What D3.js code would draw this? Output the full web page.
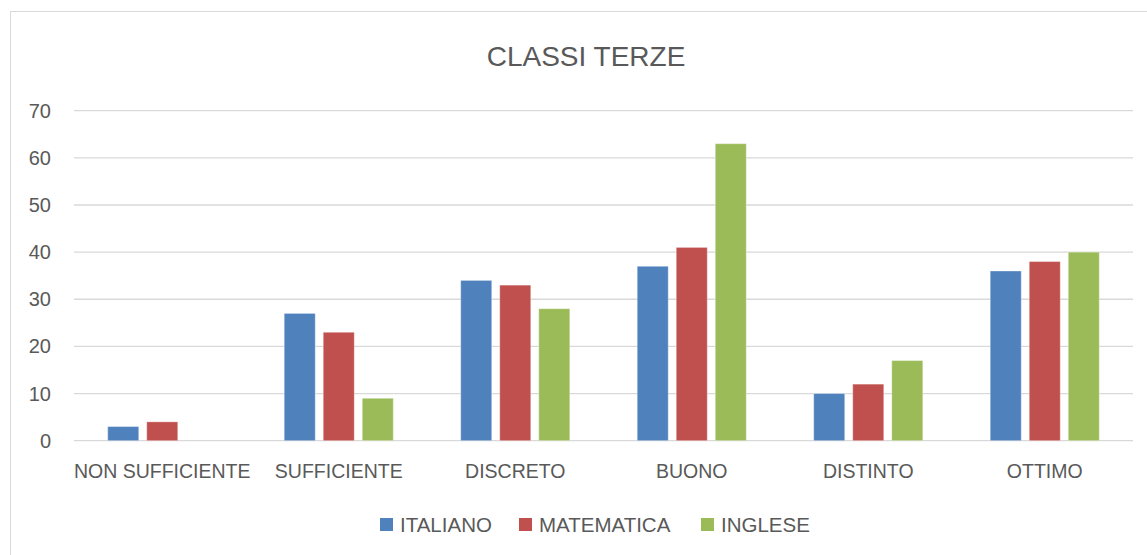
<!DOCTYPE html>
<html>
<head>
<script src="https://d3js.org/d3.v7.min.js"></script>
<style>
  body { margin: 0; background: #fff; }
  text { font-family: "Liberation Sans", Arial, sans-serif; fill: #595959; }
</style>
</head>
<body>
<svg id="chart" width="1147" height="555"></svg>
<script>
// data
var categories = ["NON SUFFICIENTE", "SUFFICIENTE", "DISCRETO", "BUONO", "DISTINTO", "OTTIMO"];
var seriesNames = ["ITALIANO", "MATEMATICA", "INGLESE"];
var italiano   = [3, 27, 34, 37, 10, 36];
var matematica = [4, 23, 33, 41, 12, 38];
var inglese    = [0, 9, 28, 63, 17, 40];
var yTicks = [0, 10, 20, 30, 40, 50, 60, 70];
var colors = ["#4F81BD", "#C0504D", "#9BBB59"];

var series = [italiano, matematica, inglese];

var svg = d3.select('#chart');

// outer chart frame
svg.append('rect')
    .attr('x', 10.5).attr('y', 11.5)
    .attr('width', 1160).attr('height', 600)
    .attr('fill', 'none').attr('stroke', '#d9d9d9');

var plotL = 74, plotR = 1133, plotT = 110.7, plotB = 440.7;

var x0 = d3.scaleBand().domain(categories).range([plotL, plotR]).paddingInner(0.382).paddingOuter(0.191);
var x1 = d3.scaleBand().domain(d3.range(3)).range([0, x0.bandwidth()]).paddingInner(0.205);
var y = d3.scaleLinear().domain([0, 70]).range([plotB, plotT]);

// gridlines
svg.append('g').selectAll('line')
    .data(yTicks)
    .enter().append('line')
    .attr('x1', plotL).attr('x2', plotR)
    .attr('y1', function(d) { return y(d); })
    .attr('y2', function(d) { return y(d); })
    .attr('stroke', '#d9d9d9').attr('stroke-width', 1.3);

// y labels
svg.append('g').selectAll('text')
    .data(yTicks)
    .enter().append('text')
    .attr('x', 51).attr('y', function(d) { return y(d) + 7; })
    .attr('text-anchor', 'end')
    .style('font-size', '20px')
    .text(function(d) { return d; });

// bars
var groups = svg.append('g').selectAll('g')
    .data(categories)
    .enter().append('g')
    .attr('transform', function(d) { return 'translate(' + x0(d) + ',0)'; });

groups.selectAll('rect')
    .data(function(d, i) { return series.map(function(s, k) { return {k: k, v: s[i]}; }); })
    .enter().append('rect')
    .attr('x', function(d) { return x1(d.k); })
    .attr('y', function(d) { return y(d.v); })
    .attr('width', x1.bandwidth())
    .attr('height', function(d) { return y(0) - y(d.v); })
    .attr('fill', function(d) { return colors[d.k]; })
    .attr('stroke', function(d) { return d.v > 0 ? 'rgba(255,255,255,0.35)' : 'none'; })
    .attr('stroke-width', 1);

// category labels
svg.append('g').selectAll('text')
    .data(categories)
    .enter().append('text')
    .attr('x', function(d) { return x0(d) + x0.bandwidth() / 2; })
    .attr('y', 478)
    .attr('text-anchor', 'middle')
    .style('font-size', '19.5px')
    .text(function(d) { return d; });

// title
svg.append('text')
    .attr('x', 586).attr('y', 66)
    .attr('text-anchor', 'middle')
    .style('font-size', '28px')
    .text('CLASSI TERZE');

// legend
var legendX = [380, 519, 701];
var legend = svg.append('g').selectAll('g')
    .data(seriesNames)
    .enter().append('g')
    .attr('transform', function(d, i) { return 'translate(' + legendX[i] + ',518)'; });
legend.append('rect')
    .attr('width', 13).attr('height', 13)
    .attr('fill', function(d, i) { return colors[i]; });
legend.append('text')
    .attr('x', 20).attr('y', 13.5)
    .style('font-size', '20.5px')
    .text(function(d) { return d; });
</script>
</body>
</html>
